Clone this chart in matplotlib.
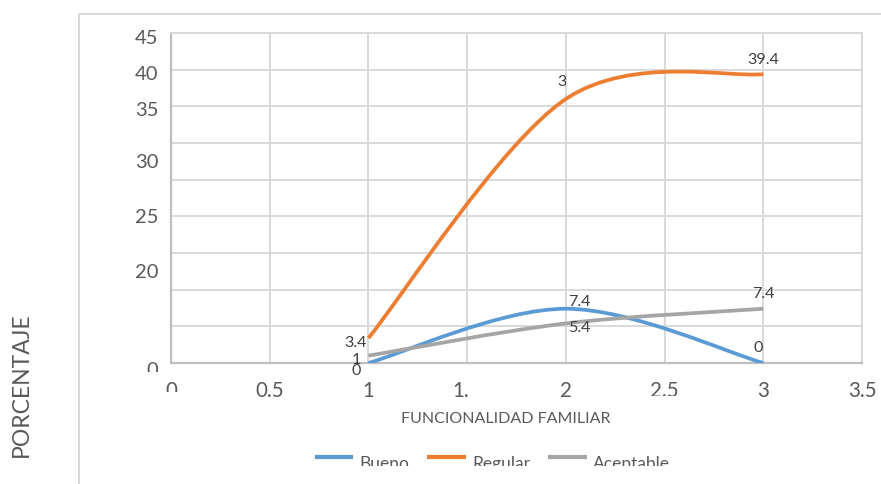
import numpy as np
import matplotlib
matplotlib.use("Agg")
import matplotlib.pyplot as plt
from matplotlib.path import Path
from matplotlib.patches import PathPatch, Rectangle
from matplotlib.lines import Line2D
from matplotlib.transforms import Bbox, TransformedBbox

plt.rcParams['font.family'] = ['Lato', 'DejaVu Sans']

# Data
niveles = [1, 2, 3]
bueno = [0, 7.4, 0]
regular = [3.4, 36, 39.4]
aceptable = [1, 5.4, 7.4]
series_names = ["Bueno", "Regular", "Aceptable"]

x_tick_values = [0, 0.5, 1, 1.5, 2, 2.5, 3, 3.5]
x_tick_labels = ["0", "0.5", "1", "1.5", "2", "2.5", "3", "3.5"]
y_label_values = [-1.0, 12.4, 19.9, 27.3, 34.5, 39.3, 44.2]
y_label_texts = ["0", "20", "25", "30", "35", "40", "45"]

colors = ["#5b9bd5", "#ed7d31", "#a5a5a5"]
text_color = "#595959"
grid_color = "#d9d9d9"

W, H = 881, 484
fig = plt.figure(figsize=(W / 100, H / 100), dpi=100)


def px(x0, y0, w, h):
    return [x0 / W, 1 - (y0 + h) / H, w / W, h / H]


def fx(x):
    return x / W


def fy(y):
    return 1 - y / H


ax = fig.add_axes(px(171, 33, 691, 330))

# grid
ax.set_xticks(x_tick_values)
ax.set_xticklabels(x_tick_labels)
ax.set_yticks(np.arange(0, 46, 5))
ax.set_yticklabels([])
ax.set_xlim(0, 3.5)
ax.set_ylim(0, 45)
ax.grid(True, color=grid_color, linewidth=1.4)
ax.set_axisbelow(True)
ax.tick_params(axis='both', length=0)
ax.tick_params(axis='x', pad=13, labelsize=14.8, labelcolor=text_color)

# value axis labels
for yv, lab in zip(y_label_values, y_label_texts):
    ax.annotate(lab, (0, yv), xycoords=("axes fraction", "data"),
                xytext=(-9, 0), textcoords="offset points", ha="right",
                va="center", fontsize=14.5, color=text_color,
                annotation_clip=False)

for s in ["top", "right"]:
    ax.spines[s].set_color(grid_color)
    ax.spines[s].set_linewidth(1.4)
for s in ["left", "bottom"]:
    ax.spines[s].set_color("#bfbfbf")
    ax.spines[s].set_linewidth(1.6)


def smooth_path(xs, ys):
    """Bezier path through the points, using neighbour-based tangents."""
    pts = np.column_stack([xs, ys]).astype(float)
    n = len(pts)
    verts = [pts[0]]
    codes = [Path.MOVETO]
    for i in range(n - 1):
        p_prev = pts[i - 1] if i > 0 else pts[i]
        p0 = pts[i]
        p1 = pts[i + 1]
        p_next = pts[i + 2] if i + 2 < n else pts[i + 1]
        c1 = p0 + (p1 - p_prev) / 6.0
        c2 = p1 - (p_next - p0) / 6.0
        verts += [c1, c2, p1]
        codes += [Path.CURVE4] * 3
    return Path(verts, codes)


for ys, c in zip([bueno, regular, aceptable], colors):
    ax.add_patch(PathPatch(smooth_path(niveles, ys), facecolor="none",
                           edgecolor=c, linewidth=2.7, capstyle="butt",
                           zorder=3))

# data labels (offsets in points)
label_offsets = {
    "Bueno": [(-8.5, -6), (10, 4.5), (-3.5, 10.5)],
    "Regular": [(-9, -3.5), (0.5, 12), (0, 10)],
    "Aceptable": [(-8.5, -3), (10, -3), (0, 10.5)],
}
for name, ys in zip(series_names, [bueno, regular, aceptable]):
    for i, (xv, yv) in enumerate(zip(niveles, ys)):
        dx, dy = label_offsets[name][i]
        txt = f"{yv:g}"
        t = ax.annotate(txt, (xv, yv), xytext=(dx, dy),
                        textcoords="offset points", ha="center", va="center",
                        fontsize=11.6, color="#404040", zorder=5,
                        annotation_clip=False)
        if name == "Regular" and i == 1:
            # label partly hidden behind the x = 2 gridline
            t.set_clip_on(True)
            t.set_clip_box(TransformedBbox(Bbox([[0, 0], [2, 45]]),
                                           ax.transData))

fig.text(fx(506), fy(419), "FUNCIONALIDAD FAMILIAR", ha="center",
         va="center", fontsize=11.5, color=text_color)
fig.text(fx(21), fy(385), "PORCENTAJE", rotation=90, ha="center",
         va="center", fontsize=16.5, color=text_color)

# chart area border
fig.add_artist(Line2D([fx(79), 1], [fy(14), fy(14)],
                      color=grid_color, linewidth=1.4))
fig.add_artist(Line2D([fx(79), fx(79)], [0, fy(14)],
                      color=grid_color, linewidth=1.4))

# legend
legend_line_x = [(315, 353), (427, 466), (548, 587)]
for (x0, x1), c, name in zip(legend_line_x, colors, series_names):
    fig.add_artist(Line2D([fx(x0), fx(x1)], [fy(457), fy(457)], color=c,
                          linewidth=3, solid_capstyle="butt"))
    fig.text(fx(x1 + 6), fy(464), name, ha="left", va="center",
             fontsize=12.5, color=text_color)

# white areas hiding parts of the labels
for (x0, y0, w, h) in [(300, 466, 420, 18), (140, 372, 25, 9),
                        (160, 392, 25, 10), (469, 376, 16, 22),
                        (645, 396, 50, 5)]:
    fig.add_artist(Rectangle((fx(x0), fy(y0 + h)), w / W, h / H,
                             transform=fig.transFigure, facecolor="white",
                             edgecolor="none", zorder=10))

fig.savefig("out.png", dpi=100, facecolor="white")
